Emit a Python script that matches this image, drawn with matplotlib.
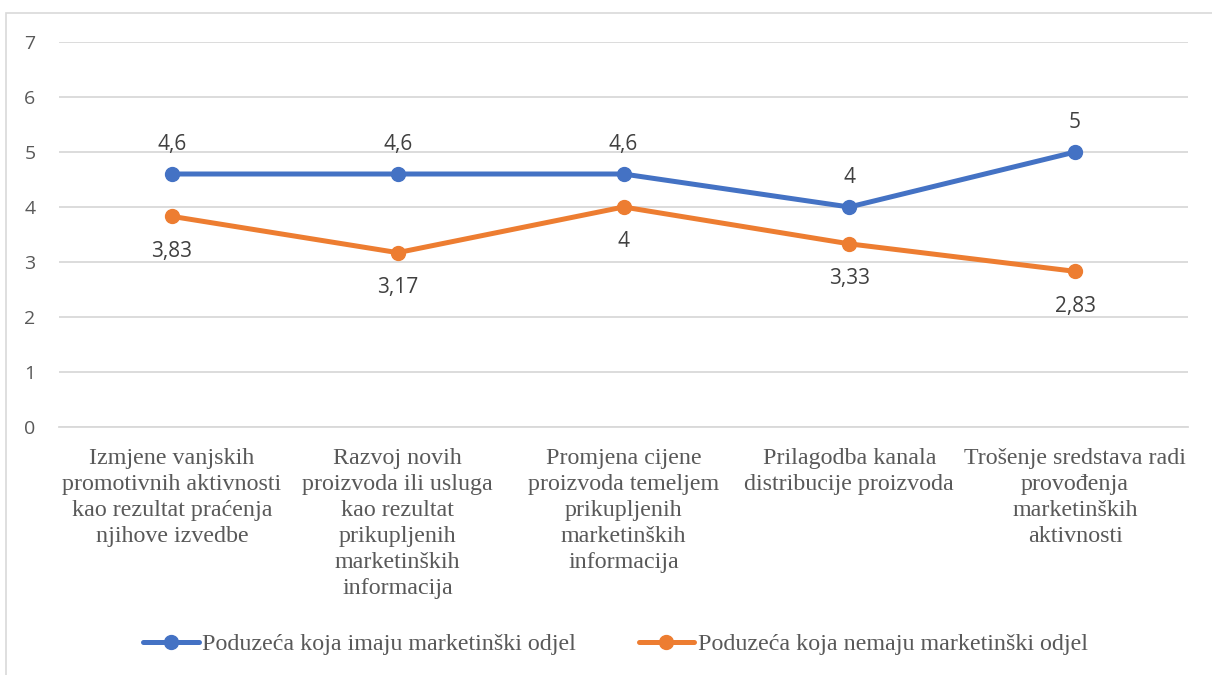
import matplotlib
matplotlib.use("Agg")
import matplotlib.pyplot as plt
from matplotlib.patches import Rectangle

categories = [
    "Izmjene vanjskih\npromotivnih aktivnosti\nkao rezultat praćenja\nnjihove izvedbe",
    "Razvoj novih\nproizvoda ili usluga\nkao rezultat\nprikupljenih\nmarketinških\ninformacija",
    "Promjena cijene\nproizvoda temeljem\nprikupljenih\nmarketinških\ninformacija",
    "Prilagodba kanala\ndistribucije proizvoda",
    "Trošenje sredstava radi\nprovođenja\nmarketinških\naktivnosti",
]
series_names = ["Poduzeća koja imaju marketinški odjel",
                "Poduzeća koja nemaju marketinški odjel"]
with_dept = [4.6, 4.6, 4.6, 4.0, 5.0]
without_dept = [3.83, 3.17, 4.0, 3.33, 2.83]
yticks = [0, 1, 2, 3, 4, 5, 6, 7]

blue = "#4472C4"
orange = "#ED7D31"
txt = "#595959"
grid = "#D9D9D9"

def fmt(v):
    s = f"{v:.2f}".rstrip("0").rstrip(".")
    return s.replace(".", ",")

fig = plt.figure(figsize=(12.12, 6.75), dpi=100)
fig.patches.append(Rectangle((6/1212, -0.1), 1.2, 1 - 13/675 + 0.1,
                             transform=fig.transFigure, fill=False,
                             edgecolor=grid, linewidth=1.2))
ax = fig.add_axes([59/1212, 1 - 427/675, (1188 - 59)/1212, (427 - 42)/675])

x = list(range(len(categories)))
ax.plot(x, with_dept, color=blue, lw=3.6, marker="o", ms=10,
        solid_capstyle="round", label=series_names[0], zorder=3)
ax.plot(x, without_dept, color=orange, lw=3.6, marker="o", ms=10,
        solid_capstyle="round", label=series_names[1], zorder=3)

for xi, v in zip(x, with_dept):
    ax.annotate(fmt(v), (xi, v), xytext=(0, 21.5), textcoords="offset points",
                ha="center", va="center", fontsize=15, color="#404040",
                family="Open Sans")
for xi, v in zip(x, without_dept):
    ax.annotate(fmt(v), (xi, v), xytext=(0, -25), textcoords="offset points",
                ha="center", va="center", fontsize=15, color="#404040",
                family="Open Sans")

ax.set_xlim(-0.5, len(categories) - 0.5)
ax.set_ylim(0, 7)
ax.set_yticks(yticks)
ax.set_yticklabels([str(t) for t in yticks], fontsize=14, color=txt,
                   family="Open Sans")
ax.tick_params(axis="y", length=0, pad=17)
ax.tick_params(axis="x", length=0, pad=15)
ax.set_xticks(x)
ax.set_xticklabels(categories, fontsize=17.3, color=txt,
                   family="Liberation Serif", linespacing=1.31, va="top")
for lbl in ax.get_xticklabels():
    lbl.set_multialignment("center")
ax.yaxis.grid(True, color=grid, lw=1.3)
ax.set_axisbelow(True)
for s in ax.spines.values():
    s.set_visible(False)
ax.spines["bottom"].set_visible(True)
ax.spines["bottom"].set_color(grid)
ax.spines["bottom"].set_linewidth(1.3)

leg = fig.legend(loc="center", bbox_to_anchor=(615.5/1212, 1 - 644/675),
                 ncol=2, frameon=False, columnspacing=2.6, handlelength=2.3,
                 handletextpad=0.15,
                 prop={"family": "Liberation Serif", "size": 17.3})
for t in leg.get_texts():
    t.set_color(txt)

fig.savefig("out.png", dpi=100)
